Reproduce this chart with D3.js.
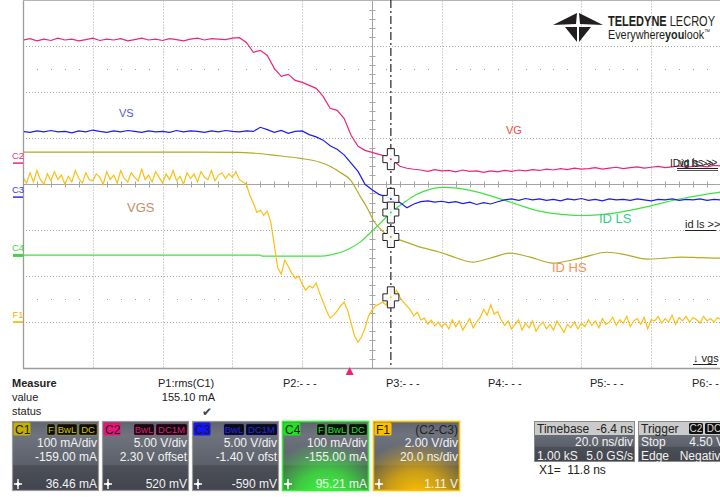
<!DOCTYPE html>
<html>
<head>
<meta charset="utf-8">
<script src="https://cdn.jsdelivr.net/npm/d3@7"></script>
<style>
  html, body { margin: 0; padding: 0; background: #fff; }
  svg { display: block; font-family: "Liberation Sans", Arial, sans-serif; }
</style>
</head>
<body>
<div id="chart"></div>
<script>
//Base de tiempos (ns)
const TIME_START = -93.6, TIME_END = 106.4, NS_PER_DIV = 20;
const CURSOR_X1 = 11.8, TRIGGER_T = 0;

//Ajustes de canal: escala por division y offset
const VG_DIV = 5, VG_OFFSET = 2.30;      // C2
const VS_DIV = 5, VS_OFFSET = -1.40;     // C3
const IDLS_DIV = 100, IDLS_OFFSET = -155; // C4
const IDHS_DIV = 100, IDHS_OFFSET = -159; // C1
const VGS_DIV = 2, VGS_OFFSET = -6.0;    // F1

//VG (V), muestreado cada 2 ns
const VG_DT = 2.0;
const vgValues = [13.4,13.55,13.3,13.5,13.35,13.6,13.4,13.5,13.3,13.45,
  13.6,13.35,13.5,13.4,13.55,13.3,13.45,13.6,13.4,13.5,
  13.35,13.55,13.45,13.3,13.5,13.6,13.4,13.55,13.5,13.45,
  13.6,13.65,13.14,12.05,12.27,11.72,10.31,9.44,9.66,9.0,
  8.79,8.46,8.14,7.27,5.96,5.74,4.87,3.03,1.83,1.39,
  1.17,0.96,0.74,0.3,-0.34,-0.56,-0.67,
  -0.75,-0.9,-0.7,-0.85,-0.8,-0.95,-0.75,-0.9,-0.85,-1.0,
  -0.85,-0.95,-0.8,-0.9,-0.75,-0.85,-0.7,-0.8,-0.65,-0.75,
  -0.6,-0.7,-0.55,-0.65,-0.6,-0.5,-0.65,-0.55,-0.45,-0.6,
  -0.5,-0.4,-0.55,-0.45,-0.35,-0.5,-0.4,-0.3,-0.45,-0.35,
  -0.3,-0.4,-0.25,-0.3];

//VS (V), cada 2 ns
const VS_DT = 2.0;
const vsValues = [7.15,7.05,7.2,7.1,7.25,7.1,7.15,7.0,7.2,7.1,
  7.3,7.15,7.05,7.2,7.1,7.25,7.15,7.05,7.2,7.1,
  7.15,7.05,7.25,7.1,7.2,7.15,7.05,7.2,7.1,7.25,
  7.15,7.1,7.2,7.15,
  7.6,7.35,7.05,7.25,6.95,7.15,7.2,6.8,6.55,6.2,
  5.6,5.2,4.6,3.7,2.8,1.4,0.8,0.3,0.05,-0.3,
  -0.6,-1.15,-0.75,-0.5,-0.4,-0.55,-0.45,-0.6,-0.5,-0.7,
  -0.55,-0.8,-0.6,-0.75,-0.5,-0.3,-0.2,-0.35,-0.15,-0.3,
  -0.2,-0.35,
  -0.25,-0.4,-0.2,-0.3,-0.15,-0.35,-0.25,-0.4,-0.2,-0.3,
  -0.25,-0.35,-0.2,-0.3,-0.4,-0.25,-0.3,-0.2,-0.35,-0.25,
  -0.3,-0.2,-0.35,-0.25,-0.3];

//VGS = C2-C3 (V), cada 1 ns
const VGS_DT = 1.0;
const vgsValues = [6.3,6.05,6.5,6.1,6.6,6.2,6.0,6.45,6.15,6.55,
  6.2,6.4,6.0,6.35,6.1,6.6,6.25,6.05,6.5,6.2,
  6.15,6.45,6.3,6.0,6.55,6.2,6.4,6.05,6.6,6.25,
  6.1,6.5,6.3,6.15,6.65,6.2,6.4,6.1,6.55,6.3,
  6.05,6.45,6.2,6.6,6.15,6.35,6.0,6.5,6.25,6.45,
  6.1,6.55,6.3,6.2,6.6,6.15,6.4,6.5,6.25,6.45,
  6.3,6.55,6.2,
  6.1,6.0,5.52,5.17,4.78,4.87,4.65,4.83,4.35,3.35,
  2.35,2.09,2.7,2.43,2.13,1.91,2.0,1.65,1.39,1.57,
  1.48,1.70,1.26,0.87,0.48,0.17,0.30,0.48,0.70,0.87,
  0.52,-0.04,-0.61,-0.87,-0.65,-0.26,0.26,0.52,0.70,0.78,
  0.87,0.74,1.04,1.13,1.39,1.09,0.87,0.70,0.52,0.26,
  0.43,0.09,0.17,-0.09,0.09,-0.17,0.0,-0.22,
  -0.05,-0.3,0.1,-0.2,0.05,-0.35,-0.1,0.15,-0.25,0.0,
  0.2,0.55,0.3,0.75,0.35,0.45,0.1,-0.15,0.05,-0.3,
  -0.1,0.1,-0.35,-0.05,-0.25,0.05,-0.4,-0.15,0.0,-0.3,
  -0.1,-0.35,0.05,-0.2,-0.45,-0.1,-0.25,0.0,-0.3,-0.05,
  -0.2,0.1,-0.15,0.05,-0.25,0.15,-0.1,0.0,0.2,-0.15,
  0.1,-0.05,0.25,-0.2,0.05,0.15,-0.1,0.2,-0.3,0.1,
  0.05,0.25,-0.05,0.15,0.0,0.3,-0.1,0.2,0.05,0.25,
  0.0,0.2,0.1,-0.05,0.25,0.05,0.15,0.0,0.2,0.1];

//ID LS (mA)
const idLsTime = [-93.6,-60,-25.6,-25,-8,-5,-2,0,3,6,9,12,15,18,21,24,27,30,36,42,48,54,60,66,72,78,84,90,96,102,106.4];
const idLsValues = [0.5,0.5,0.5,-1.5,-1.5,2,8,15,29,50,72,95,112,128,139,146,148,147,139,126,111,97,90,87,89,95,104,115,125,133,138];

//ID HS (mA)
const idHsTime = [-93.6,-60,-32,-27.1,-21.4,-14.2,-8.5,-5.6,-2.8,0.3,3,5,7,9,11,13,14.4,20.2,25.9,30.8,35.3,40.2,45.9,51.7,58.3,66,73.7,79.5,85.2,90.4,94.7,100.4,106.4];
const idHsValues = [229,229,228.6,226.5,222,215.5,207,198,185,167.7,133,108,78,60,47,40,37.3,22,11,-2,-10.6,-2,9,0.3,-12.7,-2,11,4.7,-4,-2,0.3,-0.8,-2];

const COLOR_VG = '#ef2479', COLOR_VS = '#1c1cf2', COLOR_VGS = '#fbbf14',
      COLOR_IDLS = '#3ee43e', COLOR_IDHS = '#b2ab26';

const width = 720, height = 497;
const plot = {left: 23, top: 0.5, right: 721, bottom: 368};

const svg = d3.select('#chart').append('svg')
    .attr('width', width).attr('height', height);

const x = d3.scaleLinear().domain([TIME_START, TIME_END]).range([plot.left, plot.right]);
const yDiv = d3.scaleLinear().domain([-4, 4]).range([plot.bottom, plot.top]);

function chY(v, vdiv, offset) { return yDiv((v + offset) / vdiv); }

//Reticula
let grid = svg.append('g');
for (let i = 1; i < 10; i++) {
    let xx = Math.round(x(TIME_START + i * NS_PER_DIV)) + 0.5;
    grid.append('line').attr('x1', xx).attr('x2', xx).attr('y1', plot.top).attr('y2', plot.bottom)
        .attr('stroke', i == 5 ? '#a4a4a4' : '#a8a8a8')
        .attr('stroke-dasharray', i == 5 ? null : '1,2');
}
for (let d = -3; d <= 3; d++) {
    let yy = Math.round(yDiv(d)) + 0.5;
    grid.append('line').attr('x1', plot.left).attr('x2', plot.right).attr('y1', yy).attr('y2', yy)
        .attr('stroke', d == 0 ? '#a4a4a4' : '#a8a8a8')
        .attr('stroke-dasharray', d == 0 ? null : '1,2');
}
//Marcas del centro
let xc = Math.round(x(TIME_START + 5 * NS_PER_DIV)) + 0.5, yc = Math.round(yDiv(0)) + 0.5;
for (let k = 1; k < 50; k++) {
    let xx = Math.round(x(TIME_START + k * NS_PER_DIV / 5)) + 0.5;
    if (k % 5 == 0) continue;
    grid.append('line').attr('x1', xx).attr('x2', xx).attr('y1', yc - 3).attr('y2', yc + 3).attr('stroke', '#a4a4a4');
    [2.5, -2.5].forEach(function(dv) {
        grid.append('rect').attr('x', xx - 0.5).attr('y', Math.round(yDiv(dv))).attr('width', 1).attr('height', 1).attr('fill', '#a0a0a0');
    });
}
for (let k = -19; k < 20; k++) {
    if (k % 5 == 0) continue;
    let yy = Math.round(yDiv(k / 5)) + 0.5;
    grid.append('line').attr('x1', xc - 3).attr('x2', xc + 3).attr('y1', yy).attr('y2', yy).attr('stroke', '#a4a4a4');
}
//Bordes
grid.append('line').attr('x1', plot.left + 0.5).attr('x2', plot.left + 0.5).attr('y1', 0).attr('y2', plot.bottom).attr('stroke', '#9c9c9c').attr('stroke-width', 1.3);
grid.append('line').attr('x1', plot.left).attr('x2', plot.right).attr('y1', plot.bottom + 0.5).attr('y2', plot.bottom + 0.5).attr('stroke', '#9c9c9c').attr('stroke-width', 1.3);
grid.append('line').attr('x1', plot.left).attr('x2', plot.right).attr('y1', 0.5).attr('y2', 0.5).attr('stroke', '#b4b4b4');

//Logo
let logo = svg.append('g');
logo.selectAll('path').data([
    'M553,25 L577,13 L576,24 Z', 'M603,25 L579,13 L580,24 Z',
    'M565,27 L577,27 L577,42 Z', 'M591,27 L579,27 L579,42 Z'
]).enter().append('path').attr('d', d => d).attr('fill', '#231f20');
let t1 = logo.append('text').attr('x', 608).attr('y', 26).attr('font-size', 15).attr('fill', '#231f20')
    .attr('textLength', 107).attr('lengthAdjust', 'spacingAndGlyphs');
t1.append('tspan').attr('font-weight', 'bold').text('TELEDYNE');
t1.append('tspan').text(' LECROY');
let t2 = logo.append('text').attr('x', 608).attr('y', 39).attr('font-size', 13).attr('fill', '#231f20')
    .attr('textLength', 102).attr('lengthAdjust', 'spacingAndGlyphs');
t2.append('tspan').text('Everywhere');
t2.append('tspan').attr('font-weight', 'bold').text('you');
t2.append('tspan').text('look');
t2.append('tspan').attr('font-size', 7).attr('dy', -5).text('™');

//Trazas
svg.append('clipPath').attr('id', 'clip').append('rect')
    .attr('x', plot.left + 1).attr('y', 0).attr('width', plot.right - plot.left).attr('height', plot.bottom);

let traces = svg.append('g').attr('clip-path', 'url(#clip)');

let vgPts = vgValues.map((v, i) => [TIME_START + i * VG_DT, v]);
let vsPts = vsValues.map((v, i) => [TIME_START + i * VS_DT, v]);
let vgsPts = vgsValues.map((v, i) => [TIME_START + i * VGS_DT, v]);
let idLsPts = idLsTime.map((t, i) => [t, idLsValues[i]]);
let idHsPts = idHsTime.map((t, i) => [t, idHsValues[i]]);

let series = [
    {pts: idHsPts, div: IDHS_DIV, off: IDHS_OFFSET, color: COLOR_IDHS, curve: d3.curveMonotoneX},
    {pts: idLsPts, div: IDLS_DIV, off: IDLS_OFFSET, color: COLOR_IDLS, curve: d3.curveMonotoneX},
    {pts: vgsPts, div: VGS_DIV, off: VGS_OFFSET, color: COLOR_VGS, curve: d3.curveLinear},
    {pts: vsPts, div: VS_DIV, off: VS_OFFSET, color: COLOR_VS, curve: d3.curveLinear},
    {pts: vgPts, div: VG_DIV, off: VG_OFFSET, color: COLOR_VG, curve: d3.curveLinear}
];

series.forEach(function(s) {
    let line = d3.line().curve(s.curve)
        .x(d => x(d[0]))
        .y(d => chY(d[1], s.div, s.off));
    traces.append('path').datum(s.pts).attr('d', line)
        .attr('fill', 'none').attr('stroke', s.color).attr('stroke-width', 1.2);
});

//Marcadores de canal a la izquierda
let markers = [
    {name: 'C2', off: VG_OFFSET / VG_DIV, color: '#f0308a'},
    {name: 'C3', off: VS_OFFSET / VS_DIV, color: '#3a3af5'},
    {name: 'C4', off: IDLS_OFFSET / IDLS_DIV, color: '#40d840'},
    {name: 'F1', off: VGS_OFFSET / VGS_DIV, color: '#f0b400'}
];
markers.forEach(function(m) {
    let yy = yDiv(m.off);
    svg.append('text').attr('x', 18).attr('y', yy - 4).attr('text-anchor', 'middle')
        .attr('font-size', 9.5).attr('fill', m.color).text(m.name);
    svg.append('line').attr('x1', 13).attr('x2', 23).attr('y1', yy).attr('y2', yy)
        .attr('stroke', m.color).attr('stroke-width', m.name == 'C4' ? 3 : 1.6);
});

//Etiquetas de las trazas
let labels = [
    {t: 'VS', x: 119, y: 117, size: 11, color: '#5555e6'},
    {t: 'VG', x: 506, y: 134, size: 11, color: '#f04848'},
    {t: 'VGS', x: 127, y: 212, size: 13, color: '#c58c68'},
    {t: 'ID LS', x: 599, y: 223, size: 13, color: '#2fcf8a'},
    {t: 'ID HS', x: 552, y: 272, size: 13, color: '#f29152'}
];
labels.forEach(function(l) {
    svg.append('text').attr('x', l.x).attr('y', l.y).attr('font-size', l.size).attr('fill', l.color).text(l.t);
});

//Etiquetas de la derecha
svg.append('text').attr('x', 670).attr('y', 167).attr('font-size', 10).attr('fill', '#222').text('ID');
svg.append('text').attr('x', 679).attr('y', 166).attr('font-size', 10).attr('fill', '#222').text('vg hs >>');
svg.append('text').attr('x', 681).attr('y', 167).attr('font-size', 10).attr('fill', '#222').text('id ls >>');
svg.append('line').attr('x1', 677).attr('x2', 718).attr('y1', 168.5).attr('y2', 168.5).attr('stroke', '#222');
svg.append('line').attr('x1', 677).attr('x2', 718).attr('y1', 170.5).attr('y2', 170.5).attr('stroke', '#555');
svg.append('text').attr('x', 685).attr('y', 228).attr('font-size', 11).attr('fill', '#222').text('id ls >>');
svg.append('line').attr('x1', 685).attr('x2', 716).attr('y1', 230.5).attr('y2', 230.5).attr('stroke', '#222');
svg.append('text').attr('x', 693).attr('y', 362).attr('font-size', 11).attr('fill', '#222').text('↓ vgs');
svg.append('line').attr('x1', 693).attr('x2', 717).attr('y1', 364.5).attr('y2', 364.5).attr('stroke', '#222');

//Cursor X1
let xCur = x(CURSOR_X1);
svg.append('line').attr('x1', xCur).attr('x2', xCur).attr('y1', 0).attr('y2', plot.bottom)
    .attr('stroke', '#333').attr('stroke-width', 1.3).attr('stroke-dasharray', '8,3,2,3');

function valueAt(pts, t) {
    let i = d3.bisector(d => d[0]).left(pts, t);
    if (i <= 0) return pts[0][1];
    let a = pts[i - 1], b = pts[i];
    return a[1] + (b[1] - a[1]) * (t - a[0]) / (b[0] - a[0]);
}
function crossPath(cx, cy) {
    let a = 3.5, w = 8, h = 10.5;
    return 'M' + (cx - a) + ',' + (cy - h) + 'H' + (cx + a) + 'V' + (cy - a) + 'H' + (cx + w) + 'V' + (cy + a) +
        'H' + (cx + a) + 'V' + (cy + h) + 'H' + (cx - a) + 'V' + (cy + a) + 'H' + (cx - w) + 'V' + (cy - a) + 'H' + (cx - a) + 'Z';
}
[series[4], series[3], series[1], series[0], series[2]].forEach(function(s) {
    let cy = chY(valueAt(s.pts, CURSOR_X1), s.div, s.off);
    svg.append('path').attr('d', crossPath(xCur, cy)).attr('fill', '#fff').attr('fill-opacity', 0.9)
        .attr('stroke', '#222').attr('stroke-width', 1);
    svg.append('circle').attr('cx', xCur).attr('cy', cy).attr('r', 1).attr('fill', s.color);
});

//Disparo
let xTrig = x(TRIGGER_T);
svg.append('path').attr('d', 'M' + (xTrig - 4) + ',375 L' + xTrig + ',367 L' + (xTrig + 4) + ',375 Z').attr('fill', '#ee2079');

//Panel de medidas
let meas = svg.append('g').attr('font-size', 11).attr('fill', '#222');
meas.append('text').attr('x', 12).attr('y', 387).attr('font-weight', 'bold').text('Measure');
meas.append('text').attr('x', 12).attr('y', 401).text('value');
meas.append('text').attr('x', 12).attr('y', 415).text('status');
meas.append('text').attr('x', 158).attr('y', 387).text('P1:rms(C1)');
meas.append('text').attr('x', 215).attr('y', 401).attr('text-anchor', 'end').text('155.10 mA');
meas.append('text').attr('x', 207).attr('y', 416).attr('text-anchor', 'middle').attr('fill', '#444').attr('font-size', 12).text('✔');
[['P2:- - -', 283], ['P3:- - -', 386], ['P4:- - -', 488], ['P5:- - -', 590], ['P6:- - -', 692]].forEach(function(p) {
    meas.append('text').attr('x', p[1]).attr('y', 387).text(p[0]);
});

//Cajas de canal
let defs = svg.append('defs');
let grad = defs.append('linearGradient').attr('id', 'boxg').attr('x1', 0).attr('x2', 0).attr('y1', 0).attr('y2', 1);
[[0, '#5f636e'], [0.2, '#6f737e'], [0.62, '#5c606a'], [0.64, '#4c4f58'], [1, '#42454d']].forEach(function(s) {
    grad.append('stop').attr('offset', s[0]).attr('stop-color', s[1]);
});
[['glowG', '#3cff3c'], ['glowY', '#ffc000']].forEach(function(gl) {
    let r = defs.append('radialGradient').attr('id', gl[0]).attr('cx', 0.5).attr('cy', 1.05).attr('r', 0.75);
    r.append('stop').attr('offset', 0).attr('stop-color', gl[1]).attr('stop-opacity', 1);
    r.append('stop').attr('offset', 0.45).attr('stop-color', gl[1]).attr('stop-opacity', 0.7);
    r.append('stop').attr('offset', 1).attr('stop-color', gl[1]).attr('stop-opacity', 0);
});

let boxes = [
    {x: 12, label: 'C1', color: '#c4b000', badges: ['F', 'BwL', 'DC'], badgeColor: '#d6c400', lines: ['100 mA/div', '-159.00 mA'], bottom: '36.46 mA', border: '#9a9a9a'},
    {x: 102, label: 'C2', color: '#e8147a', badges: ['BwL', 'DC1M'], badgeColor: '#e8147a', lines: ['5.00 V/div', '2.30 V offset'], bottom: '520 mV', border: '#9a9a9a'},
    {x: 192, label: 'C3', color: '#1414ff', badges: ['BwL', 'DC1M'], badgeColor: '#2222ff', lines: ['5.00 V/div', '-1.40 V ofst'], bottom: '-590 mV', border: '#9a9a9a'},
    {x: 282, label: 'C4', color: '#22e022', badges: ['F', 'BwL', 'DC'], badgeColor: '#22e022', lines: ['100 mA/div', '-155.00 mA'], bottom: '95.21 mA', border: '#33f033', glow: 'glowG'},
    {x: 373, label: 'F1', color: '#ffbf00', title: '(C2-C3)', lines: ['2.00 V/div', '20.0 ns/div'], bottom: '1.11 V', border: '#ffbf00', glow: 'glowY'}
];
let badgeW = {'F': 8, 'BwL': 20, 'DC': 18, 'DC1M': 31};

boxes.forEach(function(b) {
    let g = svg.append('g');
    let bw = 87, by = 421, bh = 70;
    g.append('rect').attr('x', b.x).attr('y', by).attr('width', bw).attr('height', bh).attr('fill', 'url(#boxg)');
    if (b.glow) g.append('rect').attr('x', b.x).attr('y', by).attr('width', bw).attr('height', bh).attr('fill', 'url(#' + b.glow + ')');
    g.append('rect').attr('x', b.x + 0.5).attr('y', by + 0.5).attr('width', bw - 1).attr('height', bh - 1)
        .attr('fill', 'none').attr('stroke', b.border).attr('stroke-width', b.glow ? 1.6 : 1.2);
    g.append('rect').attr('x', b.x + 1.5).attr('y', by + 1.5).attr('width', 17).attr('height', 13).attr('rx', 1.5).attr('fill', b.color);
    g.append('text').attr('x', b.x + 3).attr('y', by + 12.5).attr('font-size', 12).attr('fill', '#1a1a1a').text(b.label);
    if (b.badges) {
        let bx = b.x + bw - 2;
        b.badges.slice().reverse().forEach(function(t) {
            let w = badgeW[t];
            bx -= w;
            g.append('rect').attr('x', bx).attr('y', by + 3).attr('width', w).attr('height', 11).attr('rx', 1.5)
                .attr('fill', '#0c0c0c').attr('stroke', b.badgeColor).attr('stroke-width', 0.5).attr('stroke-opacity', 0.6);
            g.append('text').attr('x', bx + w / 2).attr('y', by + 11.8).attr('text-anchor', 'middle')
                .attr('font-size', 9.5).attr('fill', b.badgeColor).text(t);
            bx -= 2;
        });
    }
    if (b.title) {
        g.append('text').attr('x', b.x + bw - 2).attr('y', by + 13).attr('text-anchor', 'end')
            .attr('font-size', 12).attr('fill', '#222').text(b.title);
    }
    b.lines.forEach(function(l, i) {
        g.append('text').attr('x', b.x + bw - 2).attr('y', by + 25.5 + i * 14).attr('text-anchor', 'end')
            .attr('font-size', 12).attr('fill', '#f2f2f2').text(l);
    });
    g.append('text').attr('x', b.x + bw - 2).attr('y', by + 67).attr('text-anchor', 'end')
        .attr('font-size', 12).attr('fill', '#f2f2f2').text(b.bottom);
    //icono de cursor
    let cx = b.x + 6, cy = by + 63;
    g.append('path').attr('d', 'M' + (cx - 4) + ',' + cy + 'H' + (cx + 4) + 'M' + cx + ',' + (cy - 5) + 'V' + (cy + 5))
        .attr('stroke', '#fff').attr('stroke-width', 1.4);
    g.append('path').attr('d', 'M' + cx + ',' + (cy - 2.2) + 'L' + (cx + 2.2) + ',' + cy + 'L' + cx + ',' + (cy + 2.2) + 'L' + (cx - 2.2) + ',' + cy + 'Z')
        .attr('fill', '#fff');
});

//Timebase y Trigger
function infoBox(x0, w, title, rows, badges) {
    let g = svg.append('g').attr('font-size', 12);
    g.append('rect').attr('x', x0).attr('y', 421).attr('width', w).attr('height', 41).attr('fill', 'url(#boxg)');
    g.append('rect').attr('x', x0).attr('y', 421).attr('width', w).attr('height', 14).attr('fill', '#cbcbcb');
    g.append('rect').attr('x', x0 + 0.5).attr('y', 421.5).attr('width', w - 1).attr('height', 40).attr('fill', 'none').attr('stroke', '#8a8a8a');
    g.append('text').attr('x', x0 + 3).attr('y', 432.5).attr('fill', '#222').text(title[0]);
    if (title[1]) g.append('text').attr('x', x0 + w - 2).attr('y', 432.5).attr('text-anchor', 'end').attr('fill', '#222').text(title[1]);
    if (badges) {
        badges.forEach(function(bd) {
            g.append('rect').attr('x', bd[1]).attr('y', 423).attr('width', bd[2]).attr('height', 11).attr('rx', 1.5).attr('fill', '#111');
            g.append('text').attr('x', bd[1] + bd[2] / 2).attr('y', 432).attr('text-anchor', 'middle').attr('font-size', 10).attr('fill', '#ddd').text(bd[0]);
        });
    }
    rows.forEach(function(r, i) {
        let yy = 446 + i * 13.5;
        if (r[0]) g.append('text').attr('x', x0 + 3).attr('y', yy).attr('fill', '#f2f2f2').text(r[0]);
        if (r[1]) g.append('text').attr('x', r[2] || x0 + w - 2).attr('y', yy).attr('text-anchor', 'end').attr('fill', '#f2f2f2').text(r[1]);
    });
}
infoBox(534, 101, ['Timebase', '-6.4 ns'], [['', '20.0 ns/div'], ['1.00 kS', '5.0 GS/s']]);
infoBox(638, 90, ['Trigger'], [['Stop', '4.50 V', 724], ['Edge', 'Negative', 727]], [['C2', 689, 14], ['DC', 705, 18]]);

svg.append('text').attr('x', 539).attr('y', 474).attr('font-size', 12).attr('fill', '#222').attr('xml:space', 'preserve').text('X1=  11.8 ns');
</script>
</body>
</html>
